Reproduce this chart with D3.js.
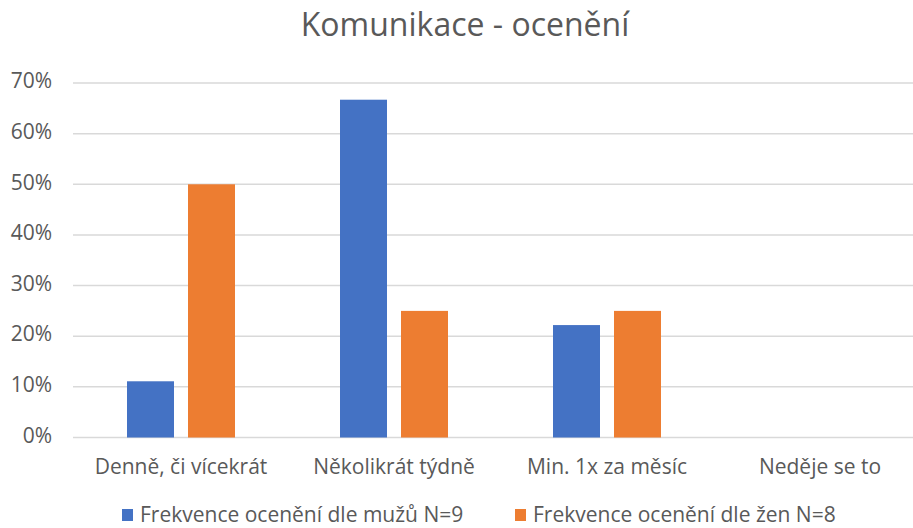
<!DOCTYPE html>
<html>
<head>
<meta charset="utf-8">
<script src="https://cdn.jsdelivr.net/npm/d3@7"></script>
<style>
  body { margin: 0; background: #fff; }
  text { font-family: "Open Sans", "Liberation Sans", sans-serif; fill: #595959; }
</style>
</head>
<body>
<svg id="chart"></svg>
<script>
const categories = ["Denně, či vícekrát", "Několikrát týdně", "Min. 1x za měsíc", "Neděje se to"];
const seriesNames = ["Frekvence ocenění dle mužů N=9", "Frekvence ocenění dle žen N=8"];
const menValues = [0.111, 0.667, 0.222, 0];
const womenValues = [0.5, 0.25, 0.25, 0];
const yTicks = [0, 0.1, 0.2, 0.3, 0.4, 0.5, 0.6, 0.7];
const colors = ["#4472C4", "#ED7D31"];

const width = 913, height = 528;
const margin = { top: 83, left: 74.5 };
const plotRight = 926.5, plotBottom = 437.5;

const svg = d3.select("#chart").attr("width", width).attr("height", height);

const x = d3.scaleBand().domain(categories).range([margin.left, plotRight]);
const y = d3.scaleLinear().domain([0, 0.7]).range([plotBottom, margin.top]);

const rows = categories.map((c, i) => ({ cat: c, vals: [menValues[i], womenValues[i]] }));

// gridlines
svg.append("g")
  .selectAll("line")
  .data(yTicks)
  .join("line")
  .attr("x1", 73)
  .attr("x2", width)
  .attr("y1", d => y(d))
  .attr("y2", d => y(d))
  .attr("stroke", "#d9d9d9")
  .attr("stroke-width", 1.5);

// y labels
svg.append("g")
  .selectAll("text")
  .data(yTicks)
  .join("text")
  .attr("x", 52)
  .attr("y", d => y(d))
  .attr("dy", "0.25em")
  .attr("text-anchor", "end")
  .style("font-size", "21px")
  .text(d => d3.format(".0%")(d));

// bars
const barW = 47, gap = 14;
svg.append("g")
  .selectAll("g")
  .data(rows)
  .join("g")
  .attr("transform", d => `translate(${x(d.cat) + x.bandwidth() / 2},0)`)
  .selectAll("rect")
  .data(d => d.vals)
  .join("rect")
  .attr("x", (d, i) => i === 0 ? -(barW + gap / 2) : gap / 2)
  .attr("y", d => y(d))
  .attr("width", barW)
  .attr("height", d => y(0) - y(d))
  .attr("fill", (d, i) => colors[i]);

// x labels
svg.append("g")
  .selectAll("text")
  .data(categories)
  .join("text")
  .attr("x", d => x(d) + x.bandwidth() / 2)
  .attr("y", 474)
  .attr("text-anchor", "middle")
  .style("font-size", "21px")
  .text(d => d);

// title
svg.append("text")
  .attr("x", 465)
  .attr("y", 36)
  .attr("text-anchor", "middle")
  .style("font-size", "32px")
  .text("Komunikace - ocenění");

// legend (nudged up a little so descenders stay inside the frame)
const legendX = [122, 515];
const legend = svg.append("g")
  .selectAll("g")
  .data(seriesNames)
  .join("g")
  .attr("transform", (d, i) => `translate(${legendX[i]},0)`);
legend.append("rect")
  .attr("x", 0).attr("y", 509)
  .attr("width", 11).attr("height", 12)
  .attr("fill", (d, i) => colors[i]);
legend.append("text")
  .attr("x", 18).attr("y", 522)
  .style("font-size", "21px")
  .text(d => d);
</script>
</body>
</html>
